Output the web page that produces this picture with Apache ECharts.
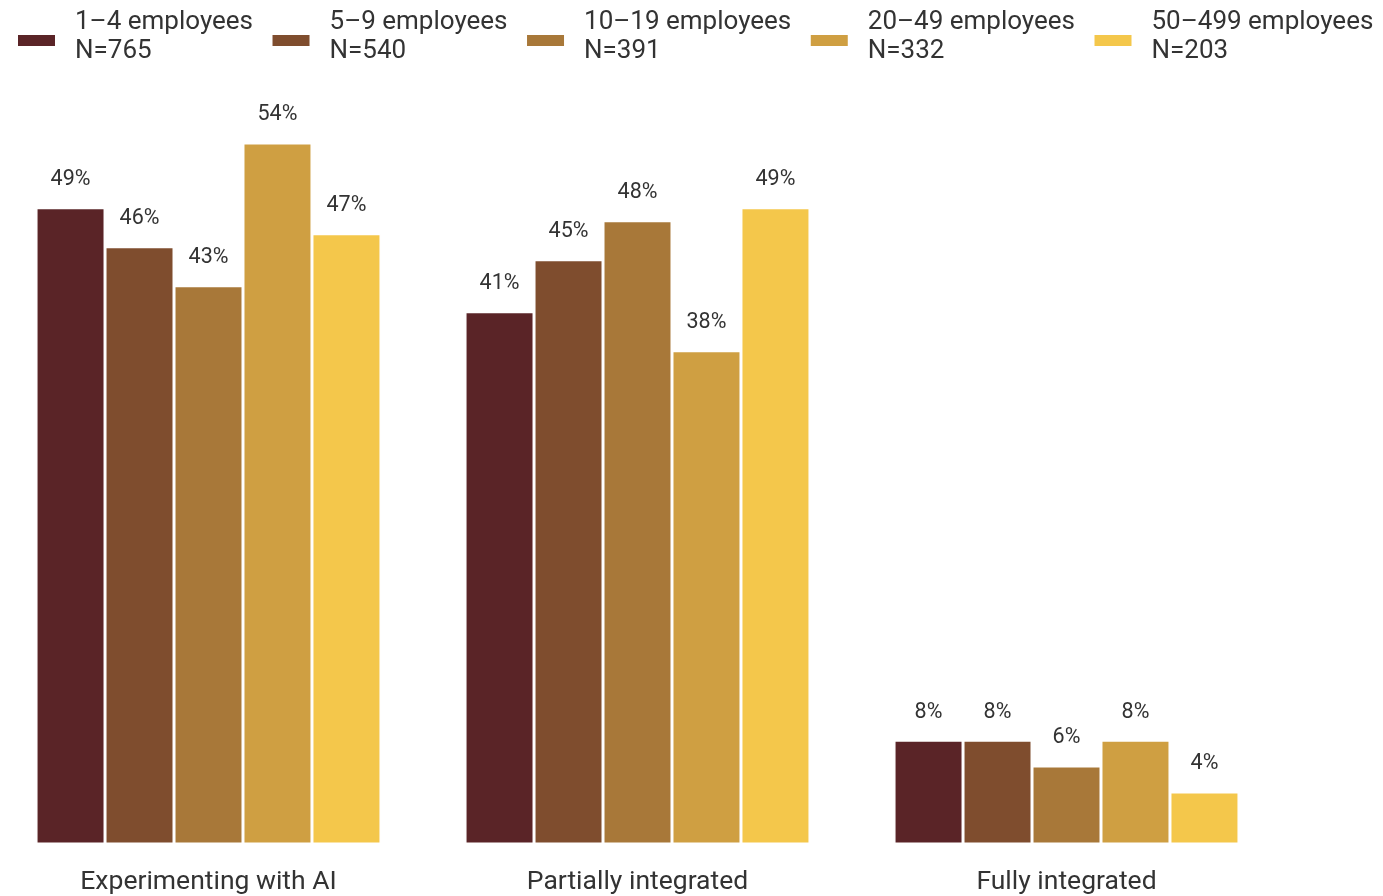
<!DOCTYPE html>
<html><head><meta charset="utf-8">
<script src="https://cdn.jsdelivr.net/npm/echarts@6/dist/echarts.min.js"></script>
<style>html,body{margin:0;padding:0;background:#fff;overflow:hidden}#c{position:absolute;left:-6px;top:0;width:1389px;height:896px}</style>
</head><body><div id="c"></div>
<script>
const categories = ['Experimenting with AI', 'Partially integrated', 'Fully integrated'];
const seriesNames = ['1–4 employees\nN=765', '5–9 employees\nN=540', '10–19 employees\nN=391', '20–49 employees\nN=332', '50–499 employees\nN=203'];
const s1 = [49, 41, 8];
const s2 = [46, 45, 8];
const s3 = [43, 48, 6];
const s4 = [54, 38, 8];
const s5 = [47, 49, 4];
const values = [s1, s2, s3, s4, s5];
const colors = ['#5a2427', '#7f4d2e', '#a87839', '#cf9f42', '#f4c74b'];

const chart = echarts.init(document.getElementById('c'));
chart.setOption({
  animation: false,
  textStyle: { fontFamily: 'Roboto' },
  legend: {
    left: 22, top: 8, width: 1367, padding: 0, itemWidth: 39, itemHeight: 13, itemGap: 17.5,
    icon: 'rect',
    formatter: name => name + '\n{s| }',
    textStyle: {
      fontSize: 26, color: '#333', lineHeight: 29, fontFamily: 'Roboto', padding: [0, 0, 0, 14],
      rich: { s: { fontSize: 1, lineHeight: 7 } }
    }
  },
  grid: { left: 0, right: 102, top: 65, bottom: 51 },
  xAxis: {
    type: 'category', data: categories,
    axisLine: { show: false }, axisTick: { show: false },
    axisLabel: { fontSize: 26.5, color: '#333', margin: 25, fontFamily: 'Roboto' }
  },
  yAxis: { type: 'value', min: 0, max: 60, show: false, splitLine: { show: false } },
  series: values.map((v, i) => ({
    name: seriesNames[i], type: 'bar', data: v,
    barGap: '0%', barCategoryGap: '19.6%',
    itemStyle: { color: colors[i], borderColor: '#fff', borderWidth: 1.5 },
    label: { show: true, position: 'top', distance: 17, formatter: '{c}%', fontSize: 21.5, color: '#333', fontFamily: 'Roboto' }
  }))
});
</script></body></html>
